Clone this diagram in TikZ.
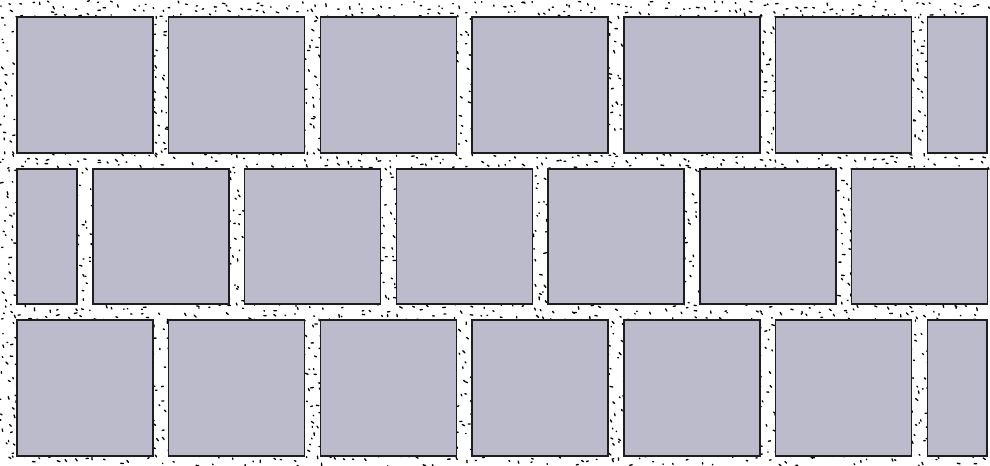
\documentclass[tikz,border=0pt]{standalone}
\definecolor{brickfill}{HTML}{BBBBCC}
\definecolor{brickline}{HTML}{1E1E1E}
\tikzset{
  brick/.style={fill=brickfill,draw=brickline,line width=1.1pt},
  grain/.style={line width=1pt,black,line cap=round}
}
% #1 x0, #2 y0, #3 x1, #4 y1 : jittered dashes in a mortar strip
\newcommand\mortarstrip[4]{%
  \pgfmathsetmacro\mxa{#1-2}%
  \pgfmathsetmacro\mya{#2-2}%
  \pgfmathsetmacro\mxb{#3+2}%
  \pgfmathsetmacro\myb{#4+2}%
  \pgfmathtruncatemacro\mnx{max(1,round((\mxb-\mxa)/9))}%
  \pgfmathtruncatemacro\mny{max(1,round((\myb-\mya)/9))}%
  \pgfmathsetmacro\mcw{(\mxb-\mxa)/\mnx}%
  \pgfmathsetmacro\mch{(\myb-\mya)/\mny}%
  \pgfmathtruncatemacro\mnxa{\mnx-1}%
  \pgfmathtruncatemacro\mnya{\mny-1}%
  \foreach \ii in {0,...,\mnxa}{%
    \foreach \jj in {0,...,\mnya}{%
      \pgfmathsetmacro\px{\mxa+(\ii+rnd)*\mcw}%
      \pgfmathsetmacro\py{\mya+(\jj+rnd)*\mch}%
      \pgfmathsetmacro\ang{-20+110*rnd}%
      \pgfmathsetmacro\len{0.5+2.5*rnd}%
      \draw[grain] (\px,\py) -- ++(\ang:\len);
    }%
  }%
}
\begin{document}
\begin{tikzpicture}[x=0.75pt,y=-0.75pt]
\useasboundingbox (0,0) rectangle (990,466);
\fill[white] (0,0) rectangle (990,466);
\pgfmathsetseed{4242}
% horizontal mortar
\mortarstrip{0}{3}{990}{17}
\mortarstrip{0}{153}{990}{169}
\mortarstrip{0}{304}{990}{320}
\mortarstrip{0}{456}{990}{464}
% vertical mortar rows 1 and 3
\foreach \yy in {17,320}{
  \mortarstrip{2}{\yy}{17}{\yy+136}
  \foreach \k in {0,...,6}{
    \mortarstrip{153+151.7*\k}{\yy}{169+151.7*\k}{\yy+136}
  }
}
% vertical mortar row 2
\mortarstrip{2}{169}{17}{304}
\foreach \k in {0,...,5}{
  \mortarstrip{77+151.7*\k}{169}{93+151.7*\k}{304}
}
% row 1
\foreach \k in {0,...,5}{
  \draw[brick] ({17+151.7*\k},17) rectangle ++(136,136);
}
\draw[brick] (927.5,17) rectangle (987,153);
% row 2
\draw[brick] (17,169) rectangle (77,304);
\foreach \k in {0,...,5}{
  \draw[brick] ({93+151.7*\k},169) rectangle ++(136,135);
}
% row 3
\foreach \k in {0,...,5}{
  \draw[brick] ({17+151.7*\k},320) rectangle ++(136,136);
}
\draw[brick] (927.5,320) rectangle (987,456);
\end{tikzpicture}
\end{document}
